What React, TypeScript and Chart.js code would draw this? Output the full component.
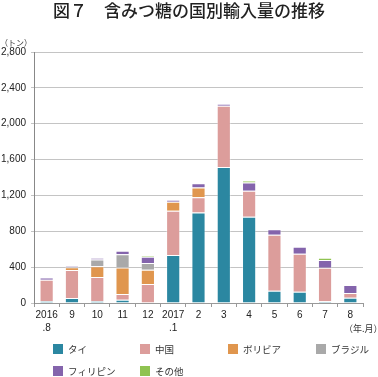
import React, { useEffect, useRef } from "react";
import { Chart, registerables } from "chart.js";

Chart.register(...registerables);

const months: string[][] = [["2016", ".8"], ["9"], ["10"], ["11"], ["12"], ["2017", ".1"], ["2"], ["3"], ["4"], ["5"], ["6"], ["7"], ["8"]];
const thai = [20, 56, 20, 37, 0, 535, 1010, 1518, 962, 137, 126, 19, 59];
const china = [240, 312, 270, 63, 212, 494, 171, 683, 290, 624, 423, 375, 52];
const bolivia = [0, 30, 120, 297, 160, 100, 108, 0, 0, 0, 0, 0, 0];
const brazil = [0, 0, 75, 148, 74, 0, 0, 0, 0, 0, 0, 0, 0];
const philippines = [25, 15, 20, 37, 70, 22, 48, 19, 93, 63, 78, 85, 89];
const others = [0, 0, 0, 0, 10, 0, 0, 0, 19, 0, 0, 26, 0];

const seriesNames = ["タイ", "中国", "ボリビア", "ブラジル", "フィリピン", "その他"];
const seriesColors = ["#2b87a1", "#dc9d9b", "#e0964e", "#a9a9a9", "#8464ac", "#8fc351"];
const seriesData = [thai, china, bolivia, brazil, philippines, others];

const titleText = "図７　含みつ糖の国別輸入量の推移";
const yUnit = "（トン）";
const xUnit = "（年.月）";

const JP = '"Noto Sans CJK JP", "Noto Sans", sans-serif';
const LAT = '"Liberation Sans", Arial, sans-serif';

const decorPlugin = {
  id: "decor",
  afterDraw(chart: any) {
    const ctx = chart.ctx;
    ctx.save();
    // title
    ctx.fillStyle = "#222";
    ctx.font = `500 17px ${JP}`;
    ctx.textAlign = "center";
    ctx.textBaseline = "middle";
    ctx.fillText(titleText, 189, 11);
    // y unit
    ctx.font = `8px ${JP}`;
    ctx.textAlign = "left";
    ctx.fillStyle = "#333";
    ctx.fillText(yUnit, 0, 43);
    // x unit
    ctx.font = `9px ${JP}`;
    ctx.fillText(xUnit, 344, 329);
    // legend
    const colX = [53, 140, 228, 316];
    const rowY = [349, 371];
    ctx.font = `9.5px ${JP}`;
    seriesNames.forEach((name, i) => {
      const cx = colX[i % 4];
      const cy = rowY[Math.floor(i / 4)];
      ctx.fillStyle = seriesColors[i];
      ctx.fillRect(cx, cy - 5, 10, 10);
      ctx.fillStyle = "#333";
      ctx.fillText(name, cx + 15, cy);
    });
    ctx.restore();
  },
};

export default function App() {
  const ref = useRef<HTMLCanvasElement>(null);
  useEffect(() => {
    if (!ref.current) return;
    const chart = new Chart(ref.current, {
      type: "bar",
      data: {
        labels: months,
        datasets: seriesNames.map((n, i) => ({
          label: n,
          data: seriesData[i],
          backgroundColor: seriesColors[i],
          borderColor: "rgba(255,255,255,0.35)",
          borderWidth: 1,
          categoryPercentage: 1,
          barPercentage: 0.56,
        })),
      },
      options: {
        responsive: false,
        animation: false,
        layout: { padding: { top: 52, right: 15, bottom: 44, left: 0 } },
        plugins: { legend: { display: false }, title: { display: false }, tooltip: { enabled: false } },
        scales: {
          x: {
            stacked: true,
            afterFit: (s: any) => { s.height = 30; },
            grid: { display: true, drawOnChartArea: false, tickLength: 4, color: "#999", offset: true },
            border: { color: "#999", width: 1 },
            ticks: { color: "#222", font: { family: LAT, size: 10, lineHeight: 1.35 }, padding: 1, maxRotation: 0, autoSkip: false },
          },
          y: {
            stacked: true,
            min: 0,
            max: 2800,
            afterFit: (s: any) => { s.width = 34; },
            grid: { color: "#c4c4c4", lineWidth: 1, tickLength: 3, drawTicks: true },
            border: { color: "#888", width: 1 },
            ticks: {
              stepSize: 400,
              color: "#222",
              padding: 5,
              font: { family: LAT, size: 10 },
              callback: (v: any) => Number(v).toLocaleString("en-US"),
            },
          },
        },
      },
      plugins: [decorPlugin],
    });
    return () => chart.destroy();
  }, []);
  return (
    <div style={{ position: "absolute", left: 0, top: 0, width: 378, height: 377, background: "#fff" }}>
      <canvas ref={ref} width={378} height={377} />
    </div>
  );
}
